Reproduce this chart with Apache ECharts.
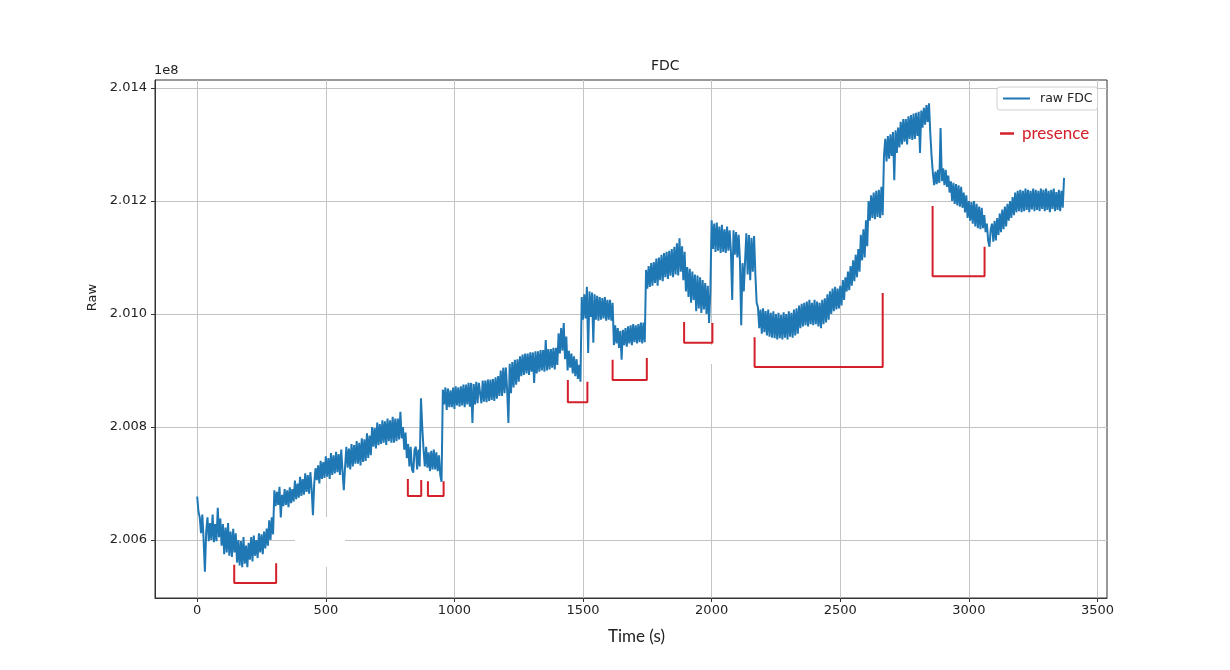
<!DOCTYPE html>
<html><head><meta charset="utf-8">
<script src="https://cdn.jsdelivr.net/npm/echarts@6/dist/echarts.min.js"></script>
<style>html,body{margin:0;padding:0;background:#fff}#c{width:1230px;height:670px}</style>
</head><body><div id="c"></div>
<script>
// sampling period of the raw FDC trace (s)
const sampleStep = 5;
// raw FDC values, in units of 1e8 (one row = 100 s)
const fdc = [
2.00677,2.00650,2.00640,2.00612,2.00645,2.00600,2.00544,2.00615,2.00640,2.00598,2.00630,2.00600,2.00645,2.00596,2.00628,2.00598,2.00657,2.00605,2.00638,2.00590,
2.00628,2.00575,2.00622,2.00578,2.00630,2.00572,2.00615,2.00570,2.00620,2.00578,2.00612,2.00560,2.00600,2.00555,2.00598,2.00552,2.00605,2.00558,2.00590,2.00552,
2.00595,2.00565,2.00605,2.00562,2.00608,2.00572,2.00600,2.00568,2.00612,2.00578,2.00610,2.00575,2.00615,2.00585,2.00620,2.00590,2.00635,2.00600,2.00640,2.00610,
2.00688,2.00660,2.00685,2.00662,2.00694,2.00640,2.00680,2.00660,2.00690,2.00662,2.00688,2.00658,2.00693,2.00665,2.00690,2.00668,2.00705,2.00672,2.00700,2.00675,
2.00712,2.00678,2.00708,2.00680,2.00718,2.00685,2.00715,2.00682,2.00720,2.00690,2.00644,2.00700,2.00727,2.00706,2.00732,2.00700,2.00740,2.00708,2.00738,2.00710,
2.00748,2.00712,2.00745,2.00708,2.00754,2.00715,2.00750,2.00718,2.00756,2.00720,2.00752,2.00715,2.00760,2.00722,2.00688,2.00730,2.00765,2.00728,2.00762,2.00725,
2.00770,2.00730,2.00768,2.00735,2.00775,2.00735,2.00772,2.00732,2.00780,2.00738,2.00778,2.00740,2.00789,2.00745,2.00785,2.00750,2.00800,2.00765,2.00798,2.00762,
2.00808,2.00768,2.00805,2.00770,2.00812,2.00772,2.00810,2.00768,2.00815,2.00775,2.00812,2.00772,2.00818,2.00772,2.00815,2.00775,2.00815,2.00778,2.00827,2.00780,
2.00800,2.00760,2.00790,2.00745,2.00770,2.00730,2.00765,2.00725,2.00719,2.00760,2.00765,2.00725,2.00760,2.00730,2.00851,2.00800,2.00760,2.00730,2.00765,2.00728,
2.00755,2.00722,2.00758,2.00725,2.00760,2.00725,2.00755,2.00722,2.00750,2.00715,2.00703,2.00866,2.00840,2.00870,2.00830,2.00868,2.00835,2.00865,2.00835,2.00870,
2.00832,2.00872,2.00838,2.00870,2.00836,2.00872,2.00838,2.00875,2.00835,2.00875,2.00840,2.00878,2.00836,2.00878,2.00807,2.00876,2.00840,2.00880,2.00842,2.00878,
2.00880,2.00842,2.00882,2.00845,2.00882,2.00844,2.00884,2.00846,2.00884,2.00848,2.00885,2.00846,2.00888,2.00850,2.00890,2.00855,2.00900,2.00855,2.00905,2.00860,
2.00905,2.00865,2.00807,2.00912,2.00860,2.00915,2.00870,2.00919,2.00875,2.00920,2.00880,2.00925,2.00890,2.00928,2.00892,2.00930,2.00895,2.00930,2.00892,2.00932,
2.00898,2.00932,2.00878,2.00934,2.00895,2.00934,2.00898,2.00936,2.00900,2.00936,2.00898,2.00954,2.00900,2.00938,2.00902,2.00938,2.00905,2.00940,2.00902,2.00940,
2.00910,2.00966,2.00930,2.00975,2.00935,2.00984,2.00920,2.00960,2.00900,2.00935,2.00905,2.00930,2.00895,2.00925,2.00890,2.00920,2.00885,2.00910,2.00880,2.01030,
2.00990,2.01035,2.00992,2.01048,2.00931,2.01040,2.00995,2.01038,2.00949,2.01035,2.00990,2.01032,2.00988,2.01030,2.00990,2.01028,2.00992,2.01030,2.00988,2.01025,
2.00990,2.01025,2.00988,2.01020,2.00945,2.00980,2.00948,2.00975,2.00940,2.00970,2.00919,2.00972,2.00945,2.00975,2.00942,2.00978,2.00948,2.00980,2.00945,2.00982,
2.00950,2.00980,2.00948,2.00982,2.00950,2.00985,2.00948,2.00985,2.00950,2.01078,2.01045,2.01085,2.01048,2.01090,2.01050,2.01092,2.01055,2.01098,2.01050,2.01100,
2.01060,2.01105,2.01058,2.01108,2.01065,2.01110,2.01062,2.01112,2.01068,2.01115,2.01065,2.01119,2.01070,2.01125,2.01068,2.01134,2.01075,2.01120,2.01060,2.01110,
2.01040,2.01083,2.01030,2.01080,2.01020,2.01075,2.01025,2.01070,2.01005,2.01068,2.01010,2.01065,2.01002,2.01060,2.01008,2.01055,2.01000,2.01050,2.00984,2.01040,
2.01166,2.01115,2.01160,2.01110,2.01162,2.01112,2.01155,2.01108,2.01158,2.01110,2.01150,2.01108,2.01155,2.01112,2.01148,2.01110,2.01025,2.01148,2.01105,2.01145,
2.01100,2.01140,2.01095,2.00980,2.01090,2.01040,2.01095,2.01143,2.01070,2.01140,2.01060,2.01135,2.01075,2.01138,2.01070,2.01020,2.01012,2.00975,2.01008,2.00965,
2.01010,2.00968,2.01005,2.00962,2.01008,2.00960,2.01002,2.00958,2.01005,2.00957,2.01000,2.00955,2.01002,2.00957,2.00998,2.00955,2.01003,2.00958,2.01000,2.00955,
2.01005,2.00960,2.01002,2.00958,2.01008,2.00962,2.01010,2.00965,2.01015,2.00975,2.01018,2.00978,2.01020,2.00980,2.01022,2.00978,2.01025,2.00982,2.01020,2.00980,
2.01025,2.00982,2.01022,2.00978,2.01020,2.00975,2.01025,2.00982,2.01028,2.00985,2.01035,2.00990,2.01040,2.01000,2.01045,2.01005,2.01048,2.01008,2.01045,2.01010,
2.01050,2.01015,2.01060,2.01025,2.01065,2.01040,2.01075,2.01042,2.01085,2.01050,2.01095,2.01058,2.01105,2.01065,2.01115,2.01075,2.01140,2.01095,2.01150,2.01100,
2.01166,2.01120,2.01200,2.01165,2.01210,2.01170,2.01215,2.01168,2.01218,2.01172,2.01220,2.01170,2.01225,2.01175,2.01280,2.01310,2.01270,2.01315,2.01275,2.01318,
2.01280,2.01322,2.01237,2.01325,2.01285,2.01330,2.01295,2.01340,2.01300,2.01345,2.01305,2.01345,2.01300,2.01350,2.01310,2.01352,2.01308,2.01355,2.01310,2.01356,
2.01315,2.01358,2.01285,2.01360,2.01330,2.01365,2.01335,2.01370,2.01340,2.01373,2.01320,2.01280,2.01250,2.01228,2.01252,2.01230,2.01255,2.01232,2.01329,2.01235,
2.01258,2.01228,2.01255,2.01225,2.01245,2.01215,2.01235,2.01200,2.01232,2.01195,2.01230,2.01192,2.01228,2.01190,2.01225,2.01188,2.01215,2.01180,2.01210,2.01170,
2.01200,2.01165,2.01198,2.01160,2.01200,2.01155,2.01195,2.01152,2.01190,2.01150,2.01188,2.01152,2.01175,2.01145,2.01160,2.01130,2.01119,2.01150,2.01160,2.01128,
2.01165,2.01130,2.01170,2.01140,2.01178,2.01145,2.01185,2.01150,2.01190,2.01155,2.01195,2.01165,2.01200,2.01170,2.01207,2.01175,2.01215,2.01180,2.01218,2.01182,
2.01220,2.01180,2.01218,2.01182,2.01222,2.01184,2.01220,2.01180,2.01218,2.01185,2.01222,2.01182,2.01220,2.01184,2.01218,2.01182,2.01222,2.01186,2.01220,2.01182,
2.01222,2.01184,2.01218,2.01180,2.01220,2.01186,2.01222,2.01182,2.01216,2.01184,2.01220,2.01182,2.01218,2.01188,2.01241
];
// presence brackets: start/end time (s), top of each arm and bottom (1e8 units)
const presenceStart    = [144, 819, 897, 1441, 1615, 1893, 2167, 2859];
const presenceEnd      = [307, 871, 958, 1517, 1748, 2003, 2665, 3061];
const presenceStartTop = [2.00556, 2.00708, 2.00704, 2.00883, 2.00919, 2.00986, 2.00959, 2.01191];
const presenceEndTop   = [2.00559, 2.00706, 2.00704, 2.00880, 2.00922, 2.00984, 2.01037, 2.01119];
const presenceBottom   = [2.00524, 2.00678, 2.00678, 2.00844, 2.00883, 2.00949, 2.00906, 2.01067];
// tick labels
const xTicks = [0, 500, 1000, 1500, 2000, 2500, 3000, 3500];
const yTicks = [2.006, 2.008, 2.010, 2.012, 2.014];

const BLUE = '#1f77b4', RED = '#d4202a', FONT = 'DejaVu Sans', TXT = '#222';
const fdcData = fdc.map((v, i) => [i * sampleStep, v]);
const presenceSeries = presenceStart.map((s, i) => ({
  type: 'line', name: 'presence', symbol: 'none', silent: true, z: 3,
  lineStyle: { color: RED, width: 2 }, itemStyle: { color: RED },
  data: [[s, presenceStartTop[i]], [s, presenceBottom[i]], [presenceEnd[i], presenceBottom[i]], [presenceEnd[i], presenceEndTop[i]]]
}));

const chart = echarts.init(document.getElementById('c'), null, { renderer: 'canvas' });
chart.setOption({
  animation: false,
  backgroundColor: '#fff',
  title: { text: 'FDC', left: 651, top: 59, padding: 0, textStyle: { fontFamily: FONT, fontSize: 14, fontWeight: 'normal', color: TXT } },
  grid: { left: 155, right: 123, top: 80, bottom: 72, show: true, borderColor: '#333', borderWidth: 1, backgroundColor: 'transparent' },
  legend: [
    { data: [{ name: 'raw FDC', icon: 'rect' }], left: 997, top: 87, orient: 'vertical', padding: [5, 5, 5, 6], itemWidth: 27, itemHeight: 2,
      backgroundColor: '#fff', borderColor: '#d0d0d0', borderWidth: 1, borderRadius: 3, itemStyle: { color: BLUE },
      textStyle: { fontFamily: FONT, fontSize: 12.5, color: TXT, padding: [0, 0, 0, 5] } },
    { data: [{ name: 'presence', icon: 'rect' }], left: 1000, top: 125, padding: 0, itemWidth: 14, itemHeight: 2.5, itemStyle: { color: RED },
      textStyle: { fontFamily: 'Lato', fontSize: 17, color: RED, padding: [0, 0, 0, 3] } }
  ],
  xAxis: {
    type: 'value', min: -164, max: 3537,
    axisLine: { show: true, onZero: false, lineStyle: { color: '#333', width: 1 } },
    axisTick: { show: true, length: 4, lineStyle: { color: '#333' }, customValues: xTicks },
    axisLabel: { customValues: xTicks, margin: 6, fontFamily: FONT, fontSize: 13, color: TXT, formatter: v => String(v) },
    splitLine: { show: true, lineStyle: { color: '#c4c4c4', width: 1 } }
  },
  yAxis: {
    type: 'value', min: 2.004973, max: 2.014142,
    axisLine: { show: true, onZero: false, lineStyle: { color: '#333', width: 1 } },
    axisTick: { show: true, length: 4, lineStyle: { color: '#333' }, customValues: yTicks },
    axisLabel: { customValues: yTicks, margin: 8, fontFamily: FONT, fontSize: 13, color: TXT, formatter: v => v.toFixed(3) },
    splitLine: { show: true, lineStyle: { color: '#c4c4c4', width: 1 } }
  },
  graphic: [
    { type: 'text', left: 154, top: 64, style: { text: '1e8', font: '13px "DejaVu Sans"', fill: TXT } },
    { type: 'text', x: 92.5, y: 297.5, rotation: Math.PI / 2, style: { text: 'Raw', font: '13px "DejaVu Sans"', fill: TXT, align: 'center', verticalAlign: 'middle' } },
    { type: 'text', x: 636.5, y: 637, style: { text: 'Time (s)', font: '17px Lato', fill: TXT, align: 'center', verticalAlign: 'middle' } },
    { type: 'rect', z: 1, shape: { x: 295, y: 517, width: 50, height: 50 }, style: { fill: '#fff' } },
    { type: 'rect', z: 1, shape: { x: 709, y: 345, width: 6, height: 19 }, style: { fill: '#fff' } }
  ],
  series: [
    { type: 'line', name: 'raw FDC', data: fdcData, symbol: 'none', z: 2,
      lineStyle: { color: BLUE, width: 2 }, itemStyle: { color: BLUE } }
  ].concat(presenceSeries)
});
</script></body></html>
